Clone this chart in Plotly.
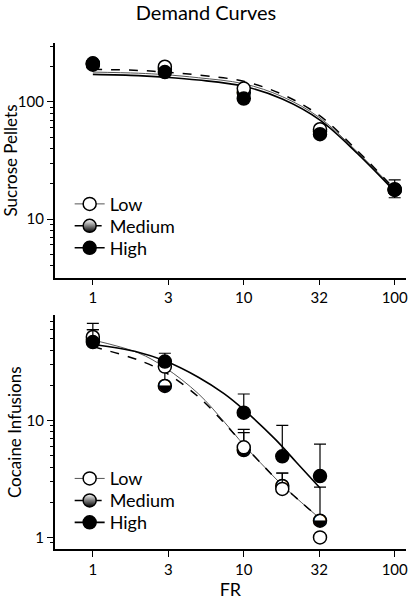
import plotly.graph_objects as go

# ---------------- data ----------------
TITLE = "Demand Curves"
GROUPS = ["Low", "Medium", "High"]

# Sucrose panel (top)
FR_SUC = [1, 3, 10, 32, 100]
SUC_LOW = [212, 200, 130, 58.5, 18]
SUC_MED = [214, 190, 120, 56, 17.8]
SUC_HIGH = [208, 180, 107, 53, 17.7]
SUC_HIGH_ERR_UP = [0, 0, 0, 0, 3.9]
SUC_HIGH_ERR_DN = [0, 0, 0, 0, 2.5]

# fitted curves (sucrose)
SUC_CURVE_FR = [1, 2, 3, 5, 10, 18, 32, 57, 100]
SUC_CURVE_LOW = [180, 176, 171, 161, 143, 111, 73, 37, 17.8]
SUC_CURVE_MED = [190, 186, 180, 170, 150, 116, 76, 38, 18]
SUC_CURVE_HIGH = [172, 168, 163, 154, 136, 106, 70, 36, 17.2]

# Cocaine panel (bottom)
FR_COC = [1, 3, 10, 18, 32]
COC_LOW = [52, 29, 5.9, 2.6, 1.0]
COC_MED = [49, 19.8, 5.6, 2.76, 1.39]
COC_HIGH = [47, 32, 11.7, 4.95, 3.35]
COC_LOW_ERR = [16, 0, 2.5, 0.95, 0]
COC_MED_ERR = [11, 9, 2.3, 0.8, 1.3]
COC_HIGH_ERR = [13, 5.7, 5.2, 4.15, 2.95]

COC_CURVE_FR = [1, 2, 3, 5, 7.5, 10, 14, 18, 24, 32]
COC_CURVE_LOW = [49, 38, 28.5, 17, 9.6, 6.2, 3.9, 2.8, 2.0, 1.45]
COC_CURVE_MED = [43, 33, 26, 16, 9.4, 6.2, 3.9, 2.8, 2.0, 1.45]
COC_CURVE_HIGH_FR = [1, 2, 3, 5, 7.4, 10, 16.2, 22.3, 32]
COC_CURVE_HIGH = [45, 38.5, 32.5, 23.5, 17, 12.4, 6.9, 4.4, 2.65]

X_TICK_VALS = [1, 3.1623, 10, 31.623, 100]
X_TICK_TEXT = ["1", "3", "10", "32", "100"]
Y_TOP_TICKS = [10, 100]
Y_BOT_TICKS = [1, 10]
MINOR_TOP = [4, 5, 6, 7, 8, 9, 20, 30, 40, 50, 60, 70, 80, 90, 200, 300]
MINOR_BOT = [0.9, 2, 3, 4, 5, 6, 7, 8, 9, 20, 30, 40, 50, 60, 70]

FONT = "Lato"
MSIZE = 13
W, H = 410, 600

fig = go.Figure()

LOW_LINE = dict(color="#555555", width=1)
MED_LINE = dict(color="black", width=1.5, dash="dash")
HIGH_LINE = dict(color="black", width=1.6)

LEG_ROWS_TOP = [203, 225, 247]
LEG_ROWS_BOT = [478, 500, 522]


def eb(up, dn=None):
    if up is None:
        return None
    return dict(type="data", array=up, arrayminus=dn if dn is not None else [0] * len(up),
                symmetric=False, color="black", thickness=1.2, width=6)


def add_panel(xa, ya, legs, fr, low, med, high, errs, cfr, clow, cmed, chfr, chigh):
    # curves
    fig.add_trace(go.Scatter(x=cfr, y=clow, mode="lines", line=dict(**LOW_LINE, shape="spline"),
                             xaxis=xa, yaxis=ya, showlegend=False, hoverinfo="skip"))
    fig.add_trace(go.Scatter(x=cfr, y=cmed, mode="lines", line=dict(**MED_LINE, shape="spline"),
                             xaxis=xa, yaxis=ya, showlegend=False, hoverinfo="skip"))
    fig.add_trace(go.Scatter(x=chfr, y=chigh, mode="lines", line=dict(**HIGH_LINE, shape="spline"),
                             xaxis=xa, yaxis=ya, showlegend=False, hoverinfo="skip"))
    low_err, med_err, high_err_up, high_err_dn = errs

    # Medium data (half-filled circles)
    fig.add_trace(go.Scatter(x=fr, y=med, mode="markers", marker=dict(size=1, color="rgba(0,0,0,0)"),
                             error_y=eb(med_err), xaxis=xa, yaxis=ya, showlegend=False))
    fig.add_trace(go.Scatter(x=fr, y=med, mode="markers",
                             marker=dict(symbol="circle", size=MSIZE, color="white",
                                         line=dict(color="black", width=1.5)),
                             xaxis=xa, yaxis=ya, showlegend=False))
    fig.add_trace(go.Scatter(x=fr, y=med, mode="text", text=["\u25D2"] * len(fr),
                             textposition="middle center",
                             textfont=dict(family="DejaVu Sans", size=17, color="black"),
                             xaxis=xa, yaxis=ya, showlegend=False))
    # Low
    fig.add_trace(go.Scatter(x=fr, y=low, mode="markers",
                             marker=dict(symbol="circle", size=MSIZE, color="white",
                                         line=dict(color="black", width=1.5)),
                             error_y=eb(low_err), xaxis=xa, yaxis=ya, showlegend=False))
    # High
    fig.add_trace(go.Scatter(x=fr, y=high, mode="markers",
                             marker=dict(symbol="circle", size=MSIZE, color="black",
                                         line=dict(color="black", width=1.5)),
                             error_y=eb(high_err_up, high_err_dn), xaxis=xa, yaxis=ya, showlegend=False))
    # legend entries (one legend box per row)
    fig.add_trace(go.Scatter(x=[None], y=[None], mode="lines+markers", name=GROUPS[0], legend=legs[0],
                             line=LOW_LINE,
                             marker=dict(symbol="circle", size=MSIZE, color="white",
                                         line=dict(color="black", width=1.5)),
                             xaxis=xa, yaxis=ya))
    fig.add_trace(go.Scatter(x=[None], y=[None], mode="lines+markers", name=GROUPS[1], legend=legs[1],
                             line=MED_LINE,
                             marker=dict(symbol="circle", size=MSIZE, color="white",
                                         gradient=dict(type="vertical", color="black"),
                                         line=dict(color="black", width=1.5)),
                             xaxis=xa, yaxis=ya))
    fig.add_trace(go.Scatter(x=[None], y=[None], mode="lines+markers", name=GROUPS[2], legend=legs[2],
                             line=HIGH_LINE,
                             marker=dict(symbol="circle", size=MSIZE, color="black",
                                         line=dict(color="black", width=1.5)),
                             xaxis=xa, yaxis=ya))


add_panel("x", "y", ["legend", "legend2", "legend3"], FR_SUC, SUC_LOW, SUC_MED, SUC_HIGH,
          (None, None, SUC_HIGH_ERR_UP, SUC_HIGH_ERR_DN),
          SUC_CURVE_FR, SUC_CURVE_LOW, SUC_CURVE_MED, SUC_CURVE_FR, SUC_CURVE_HIGH)
add_panel("x2", "y2", ["legend4", "legend5", "legend6"], FR_COC, COC_LOW, COC_MED, COC_HIGH,
          (COC_LOW_ERR, COC_MED_ERR, COC_HIGH_ERR, None),
          COC_CURVE_FR, COC_CURVE_LOW, COC_CURVE_MED, COC_CURVE_HIGH_FR, COC_CURVE_HIGH)

XDOM = [55 / W, 408 / W]
TOP_DOM = [1 - 278 / H, 1 - 43.5 / H]
BOT_DOM = [1 - 550 / H, 1 - 316 / H]

xcommon = dict(type="log", range=[-0.2525, 2.075], domain=XDOM,
               tickvals=X_TICK_VALS, ticktext=X_TICK_TEXT,
               ticks="outside", ticklen=6, tickwidth=1.2, tickcolor="black",
               showline=True, linecolor="black", linewidth=1.5,
               showgrid=False, zeroline=False,
               tickfont=dict(family=FONT, size=15, color="black"))
ycommon = dict(type="log", ticks="outside", ticklen=6, tickwidth=1.2, tickcolor="black",
               showline=True, linecolor="black", linewidth=1.5,
               showgrid=False, zeroline=False,
               tickfont=dict(family=FONT, size=15, color="black"))


def leg(row_y):
    return dict(x=70 / W, y=1 - (row_y - 17) / H, xanchor="left", yanchor="top",
                font=dict(family=FONT, size=18, color="black"), bgcolor="rgba(0,0,0,0)")


legends = {}
names = ["legend", "legend2", "legend3", "legend4", "legend5", "legend6"]
for n, ry in zip(names, LEG_ROWS_TOP + LEG_ROWS_BOT):
    legends[n] = leg(ry)

fig.update_layout(
    width=W, height=H,
    margin=dict(l=0, r=0, t=0, b=0),
    paper_bgcolor="white", plot_bgcolor="white",
    font=dict(family=FONT, color="black"),
    title=dict(text=TITLE, x=206 / W, xanchor="center", y=1 - 6 / H, yanchor="top",
               font=dict(family=FONT, size=20, color="black")),
    xaxis=dict(**xcommon, anchor="y"),
    yaxis=dict(**ycommon, anchor="x", domain=TOP_DOM, range=[0.5, 2.5],
               tickvals=Y_TOP_TICKS, ticktext=["10", "100"],
               minor=dict(ticks="outside", ticklen=3, tickcolor="black", tickvals=MINOR_TOP, showgrid=False),
               title=dict(text="Sucrose Pellets", standoff=1, font=dict(family=FONT, size=17))),
    xaxis2=dict(**xcommon, anchor="y2",
                title=dict(text="FR", standoff=10, font=dict(family=FONT, size=18))),
    yaxis2=dict(**ycommon, anchor="x2", domain=BOT_DOM, range=[-0.1, 1.9],
                tickvals=Y_BOT_TICKS, ticktext=["1", "10"],
                minor=dict(ticks="outside", ticklen=3, tickcolor="black", tickvals=MINOR_BOT, showgrid=False),
                title=dict(text="Cocaine Infusions", standoff=1, font=dict(family=FONT, size=17))),
    **legends,
)

fig.write_html("out.html", config={"displayModeBar": False},
               post_script="document.body.style.margin='0px';")
